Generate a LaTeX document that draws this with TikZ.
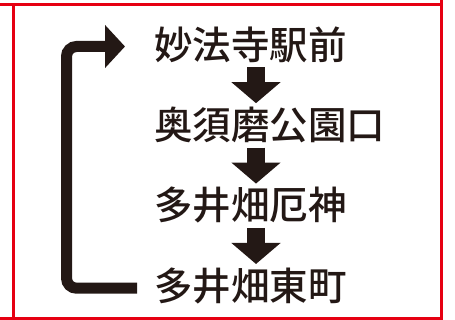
\documentclass[tikz,border=0pt]{standalone}
\usepackage{fontspec}
\newfontfamily\cjk{Noto Sans CJK JP}[BoldFont={Noto Sans CJK JP Medium}]
\usepackage{tikz}
\usetikzlibrary{arrows.meta,calc,positioning}
\definecolor{frame}{HTML}{E60012}
\definecolor{ink}{HTML}{231815}

\begin{document}
\begin{tikzpicture}[x=1pt, y=-1pt, node distance=41.5pt,
  station/.style={font=\cjk\bfseries\fontsize{38.5}{38.5}\selectfont, text=ink,
    inner sep=0pt, text height=33.9pt, text depth=4.6pt, anchor=west},
  down/.style={ink, line width=18pt, -{Triangle[length=21pt,width=48pt]}},
  back/.style={ink, line width=11pt, rounded corners=10pt, -{Triangle[length=20pt,width=42pt]}},
  edge/.style={frame, line width=3pt}]
\useasboundingbox (0,0) rectangle (455,320);
\draw[edge] (0,4.7) -- (443.2,4.7);
\draw[edge] (441.7,0) -- (441.7,320);
\draw[edge] (13.3,4.7) -- (13.3,320);
\draw[edge] (0,318.8) -- (443.2,318.8);
\node[station] (s1) at (154,44.5) {妙法寺駅前};
\node[station, below=of s1.south west, anchor=north west] (s2) {奥須磨公園口};
\node[station, below=of s2.south west, anchor=north west] (s3) {多井畑厄神};
\node[station, below=of s3.south west, anchor=north west] (s4) {多井畑東町};
\coordinate (axis) at (256,0);
\draw[down] ($(s1.south -| axis)+(0,3.25)$) -- ($(s2.north -| axis)+(0,-2.25)$);
\draw[down] ($(s2.south -| axis)+(0,3.25)$) -- ($(s3.north -| axis)+(0,-2.25)$);
\draw[down] ($(s3.south -| axis)+(0,3.25)$) -- ($(s4.north -| axis)+(0,-2.25)$);
\coordinate (turn) at ($(s1.west)+(-87.5,2)$);
\draw[back] ($(s4.west)+(-17,2.5)$) -| (turn) -- ($(s1.west)+(-29,2)$);
\end{tikzpicture}
\end{document}
